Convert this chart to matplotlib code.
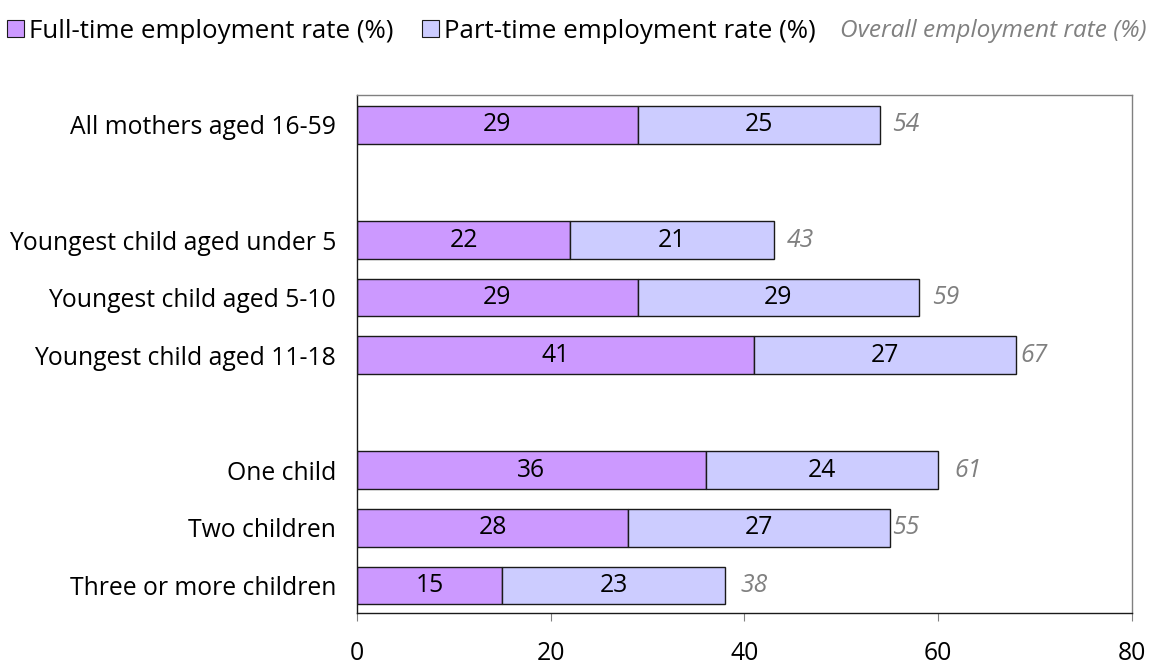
import matplotlib
matplotlib.use("Agg")
import matplotlib.pyplot as plt
from matplotlib.patches import Patch

plt.rcParams['font.family'] = ['Open Sans', 'DejaVu Sans']

categories = [
    "All mothers aged 16-59",
    "Youngest child aged under 5",
    "Youngest child aged 5-10",
    "Youngest child aged 11-18",
    "One child",
    "Two children",
    "Three or more children",
]
full_time = [29, 22, 29, 41, 36, 28, 15]
part_time = [25, 21, 29, 27, 24, 27, 23]
overall = [54, 43, 59, 67, 61, 55, 38]
x_ticks = [0, 20, 40, 60, 80]

# row slots, leaving an empty slot between the three groups
slots = [0, 2, 3, 4, 6, 7, 8]
# horizontal nudge (points) of each overall-rate label past its bar end
label_nudge = [8.5, 9.5, 9.5, 3.5, 12, 2, 11]

FULL_COLOR = "#CC99FF"
PART_COLOR = "#CCCCFF"
GREY = "#808080"
FS = 17.8
LEG_FS = 18.6

fig = plt.figure(figsize=(11.5, 6.64), dpi=100)
ax = fig.add_axes([0.3104, 0.0768, 0.6739, 0.7801])

bar_h = 0.655
fb = ax.barh(slots, full_time, height=bar_h, color=FULL_COLOR,
             edgecolor="#1a1a1a", linewidth=1.0)
pb = ax.barh(slots, part_time, left=full_time, height=bar_h, color=PART_COLOR,
             edgecolor="#1a1a1a", linewidth=1.0)

ax.bar_label(fb, labels=[str(v) for v in full_time], label_type="center",
             fontsize=FS, color="black")
ax.bar_label(pb, labels=[str(v) for v in part_time], label_type="center",
             fontsize=FS, color="black")

for y, f, p, tot, dx in zip(slots, full_time, part_time, overall, label_nudge):
    ax.annotate(str(tot), xy=(f + p, y), xytext=(dx, 0),
                textcoords="offset points", ha="left", va="center",
                fontsize=FS, color=GREY, style="italic")

ax.set_xlim(0, 80)
ax.set_ylim(8.48, -0.52)
ax.set_xticks(x_ticks)
ax.set_xticklabels([str(t) for t in x_ticks])
ax.set_yticks(slots)
ax.set_yticklabels(categories)

ax.tick_params(axis="x", direction="out", length=6, width=0.8, color=GREY,
               pad=14, labelsize=FS, labelcolor="black")
ax.tick_params(axis="y", length=0, pad=15, labelsize=FS, labelcolor="black")

for side in ("left", "bottom"):
    ax.spines[side].set_color("#1a1a1a")
    ax.spines[side].set_linewidth(1.0)
for side in ("top", "right"):
    ax.spines[side].set_color(GREY)
    ax.spines[side].set_linewidth(1.0)

handles = [
    Patch(facecolor=FULL_COLOR, edgecolor="#1a1a1a", linewidth=0.8,
          label="Full-time employment rate (%)"),
    Patch(facecolor=PART_COLOR, edgecolor="#1a1a1a", linewidth=0.8,
          label="Part-time employment rate (%)"),
]
fig.legend(handles=handles, loc="center left", bbox_to_anchor=(0.006, 0.953),
           ncol=2, frameon=False, fontsize=LEG_FS, handlelength=0.65,
           handleheight=0.65, handletextpad=0.2, columnspacing=1.1,
           borderaxespad=0, borderpad=0)
fig.text(0.997, 0.953, "Overall employment rate (%)", ha="right", va="center",
         fontsize=17.6, color=GREY, style="italic")

fig.savefig("out.png", dpi=100)
